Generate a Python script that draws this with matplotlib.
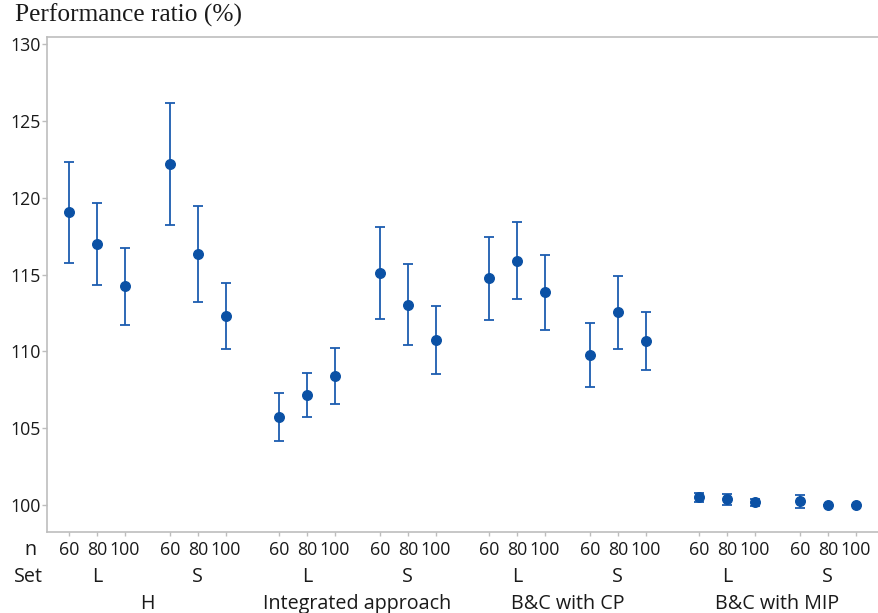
"""Interval plot of performance ratio by method, instance set and n."""

import matplotlib
matplotlib.use("Agg")
import matplotlib.pyplot as plt
import numpy as np

methods = ["H", "Integrated approach", "B&C with CP", "B&C with MIP"]
sets = ["L", "S"]
sizes = [60, 80, 100]

# order: method -> set -> n
means = [119.05, 116.99, 114.25, 122.19, 116.34, 112.30,
         105.75, 107.16, 108.40, 115.08, 113.04, 110.72,
         114.75, 115.90, 113.84, 109.77, 112.54, 110.68,
         100.51, 100.38, 100.18, 100.25, 100.00, 100.02]
upper = [122.34, 119.68, 116.73, 126.16, 119.44, 114.45,
         107.31, 108.62, 110.22, 118.07, 115.69, 112.93,
         117.44, 118.42, 116.29, 111.87, 114.93, 112.56,
         100.81, 100.74, 100.40, 100.66, 100.02, 100.04]
lower = [115.75, 114.34, 111.74, 118.20, 113.23, 110.16,
         104.19, 105.75, 106.56, 112.11, 110.40, 108.55,
         112.04, 113.39, 111.41, 107.66, 110.16, 108.77,
         100.20, 100.00, 99.94, 99.83, 99.98, 100.00]

BLUE = "#0B51A5"
LINE = "#1C5DB0"
GREY = "#BDBDBD"
TXT = "#1A1A1A"
SANS = ["Open Sans", "DejaVu Sans"]
FS_NUM = 12.8
FS_TXT = 14.2

# x positions: small gap between sets, bigger gap between methods
pos = []
for m in range(len(methods)):
    for s in range(len(sets)):
        si = m * len(sets) + s
        for k in range(len(sizes)):
            pos.append(3 * si + k + 0.6 * si + 0.3 * m)
pos = np.array(pos)
means = np.array(means)
yerr = np.vstack([means - np.array(lower), np.array(upper) - means])

fig = plt.figure(figsize=(8.79, 6.13), dpi=100)
ax = fig.add_axes([0.0538, 0.1326, 0.9462, 0.8065])

ax.errorbar(pos, means, yerr=yerr, fmt="none", ecolor=LINE, elinewidth=1.3,
            capsize=3.3, capthick=1.3, zorder=2)
ax.plot(pos, means, "o", color=BLUE, ms=6.9, zorder=3)

ax.set_xlim(-0.775, 28.93)
ax.set_ylim(98.27, 130.44)
ax.set_yticks(np.arange(100, 131, 5))
ax.set_xticks(pos)
ax.set_xticklabels([])
for t in ax.get_yticklabels():
    t.set_fontfamily(SANS)
ax.tick_params(axis="y", labelsize=FS_NUM, colors=GREY, labelcolor=TXT,
               length=3.5, width=1, pad=1)
ax.tick_params(axis="x", colors=GREY, length=3, width=1)
for side in ["left", "bottom", "top"]:
    ax.spines[side].set_color(GREY)
    ax.spines[side].set_linewidth(1.2)
ax.spines["right"].set_visible(False)

# hierarchical x labels
tr = ax.get_xaxis_transform()
row_n, row_set, row_m = -0.047, -0.101, -0.157
for i, p in enumerate(pos):
    ax.text(p, row_n, str(sizes[i % 3]), transform=tr, ha="center",
            va="baseline", fontsize=FS_NUM, family=SANS, color=TXT)
for si in range(len(methods) * len(sets)):
    ax.text(pos[3 * si + 1], row_set, sets[si % 2], transform=tr,
            ha="center", va="baseline", fontsize=FS_TXT, family=SANS, color=TXT)
for m, name in enumerate(methods):
    c = (pos[6 * m] + pos[6 * m + 5]) / 2
    ax.text(c, row_m, name, transform=tr, ha="center", va="baseline",
            fontsize=FS_TXT, family=SANS, color=TXT)
ax.text(-0.0128, row_n, "n", transform=ax.transAxes, ha="right", va="baseline",
        fontsize=FS_TXT, family=SANS, color=TXT)
ax.text(-0.0055, row_set, "Set", transform=ax.transAxes, ha="right",
        va="baseline", fontsize=FS_TXT, family=SANS, color=TXT)

fig.text(15 / 879, 1 - 21.7 / 613, "Performance ratio (%)", ha="left",
         va="baseline", fontsize=18.3, family=["Liberation Serif"], color=TXT)

fig.savefig("out.png", dpi=100)
